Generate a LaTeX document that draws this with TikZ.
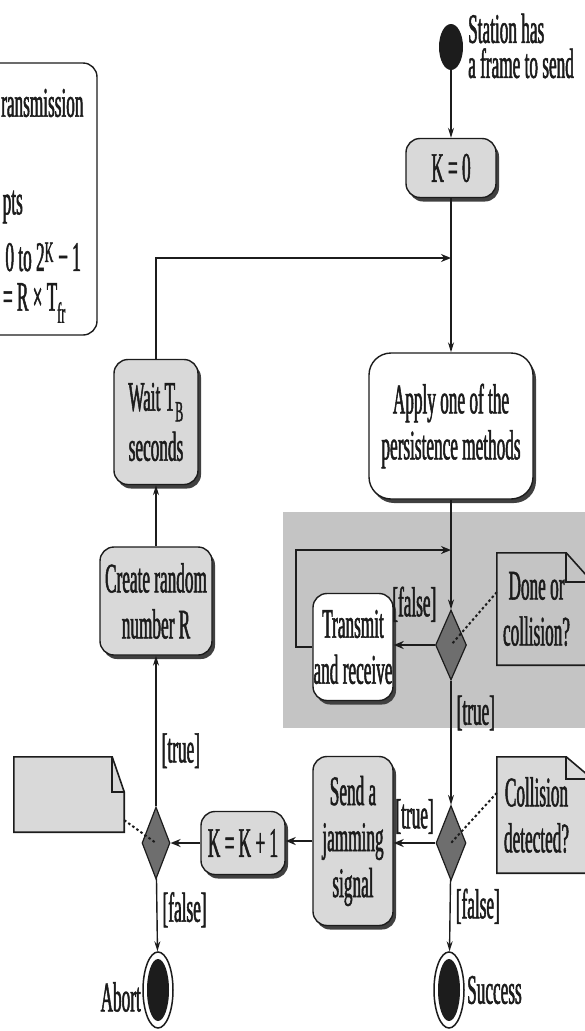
\documentclass[tikz,border=0pt]{standalone}
\usepackage{fontspec}
\setmainfont{Liberation Serif}[FakeStretch=0.41,FakeBold=1.2]
\usetikzlibrary{shapes.geometric,arrows.meta,shadows,calc,backgrounds}
\definecolor{boxgray}{HTML}{D9D9D9}
\definecolor{regiongray}{HTML}{C4C4C4}
\definecolor{diagray}{HTML}{6E6E6E}
\definecolor{ink}{HTML}{1C1C1C}
\begin{document}
\begin{tikzpicture}[x=1pt,y=-1pt,
  every node/.style={font=\fontsize{42}{46}\selectfont, inner sep=0pt, text=ink},
  act/.style={draw=ink, line width=1.4pt, rounded corners=14pt, fill=boxgray, align=center,
    drop shadow={shadow xshift=3pt, shadow yshift=-4pt, fill=black!75, opacity=1}},
  actw/.style={act, fill=white},
  dec/.style={diamond, draw=ink, line width=1.2pt, fill=diagray},
  flow/.style={draw=ink, line width=1.4pt, -{Stealth[length=10pt,width=6pt]}},
  flowt/.style={draw=ink, line width=2.2pt, -{Stealth[length=10pt,width=8pt]}},
  anno/.style={draw=ink, line width=2pt, dash pattern=on 2.5pt off 2.5pt},
  notetext/.style={align=center},
  notepath/.style={draw=ink, line width=1.6pt},
  finalstate/.style={ellipse, draw=ink, line width=1.5pt, fill=white, minimum width=30pt, minimum height=76pt,
    path picture={\fill[ink] (path picture bounding box.center) ellipse [x radius=11pt, y radius=31pt];}},
]
\useasboundingbox (0,0) rectangle (585,1031);
\clip (0,0) rectangle (585,1031);

% shaded region
\begin{scope}[on background layer]
  \fill[regiongray] (283,512) rectangle (600,728);
\end{scope}

% legend box (cut by the left edge)
\node[draw=ink, line width=1.4pt, rounded corners=14pt, fill=white, minimum width=160pt, minimum height=272pt] (legend) at (17,199) {};
\node[anchor=west] (lg1) at (1,103) {ransmission};
\node[anchor=east] (lg2) at (23,207) {pts};
\node[anchor=east] (lg3) at (81,257) {0 to 2\textsuperscript{K} − 1};
\node[anchor=east] (lg4) at (66,303) {= R × T\textsubscript{fr}};

% start
\node[ellipse, fill=ink, minimum width=24pt, minimum height=46pt] (start) at (451,47) {};
\node[anchor=west, align=left, font=\fontsize{42}{35}\selectfont] (stlab) at (468,46) {Station has\\a frame to send};

% actions
\node[act, minimum width=90pt, minimum height=59pt] (k0) at (451,168) {K = 0};
\node[actw, rounded corners=22pt, minimum width=164pt, minimum height=146pt] (apply) at (451,426) {Apply one of the\\persistence methods};
\node[act, minimum width=84pt, minimum height=125pt, font=\fontsize{42}{50}\selectfont] (wait) at (156,422) {Wait T\textsubscript{B}\\seconds};
\node[act, minimum width=112pt, minimum height=108pt] (create) at (156,601) {Create random\\number R};
\node[actw, minimum width=80pt, minimum height=107pt] (tx) at (353,647) {Transmit\\and receive};
\node[act, minimum width=80pt, minimum height=169pt] (send) at (353,841) {Send a\\jamming\\signal};
\node[act, minimum width=84pt, minimum height=63pt] (kk1) at (243,843) {K = K + 1};

% decisions
\node[dec, minimum width=28pt, minimum height=72pt] (dl) at (156,843) {};
\node[dec, minimum width=31pt, minimum height=70pt] (d1) at (451,645) {};
\node[dec, minimum width=30pt, minimum height=75pt] (d2) at (451,843) {};

% final states
\node[finalstate] (succ) at (449,990) {};
\node[anchor=west] (succlab) at (467,990) {Success};
\node[finalstate] (abort) at (158,990) {};
\node[anchor=east] (ablab) at (141,997) {Abort};

% notes
\node[notetext, minimum width=110pt, minimum height=75pt] (nl) at (69,794.5) {};
\node[notetext, minimum width=79pt, minimum height=112pt] (n1) at (536.5,609) {Done or\\collision?};
\node[notetext, minimum width=79pt, minimum height=116pt] (n2) at (536.5,815) {Collision\\detected?};
\begin{scope}[on background layer]
  \draw[notepath, fill=boxgray] (nl.north west) -- ([xshift=-12pt]nl.north east) -- ([yshift=-35pt]nl.north east) -- (nl.south east) -- (nl.south west) -- cycle;
  \draw[notepath] ([xshift=-12pt]nl.north east) -- ([xshift=-12pt,yshift=-35pt]nl.north east) -- ([yshift=-35pt]nl.north east);
  \draw[notepath, fill=regiongray] (n1.north west) -- ([xshift=-10pt]n1.north east) -- ([xshift=16pt,yshift=-29pt]n1.north east) -- ([xshift=16pt]n1.south east) -- (n1.south west) -- cycle;
  \draw[notepath] ([xshift=-10pt]n1.north east) -- ([xshift=-10pt,yshift=-29pt]n1.north east) -- ([xshift=16pt,yshift=-29pt]n1.north east);
  \draw[notepath, fill=boxgray] (n2.north west) -- ([xshift=-10pt]n2.north east) -- ([xshift=16pt,yshift=-22pt]n2.north east) -- ([xshift=16pt]n2.south east) -- (n2.south west) -- cycle;
  \draw[notepath] ([xshift=-10pt]n2.north east) -- ([xshift=-10pt,yshift=-22pt]n2.north east) -- ([xshift=16pt,yshift=-22pt]n2.north east);
\end{scope}

% flows
\coordinate (m1) at (451,258);
\coordinate (m2) at (451,550);
\draw[flow] (start) -- (k0);
\draw[flow] (k0) -- (apply);
\draw[flowt, line width=1.8pt] (wait.north) |- (m1);
\draw[flow] (apply) -- (d1);
\draw[flowt] (tx.west) -- ++(-16,0) |- (m2);
\draw[flowt] (d1.west) -- (d1.west -| tx.east) node[midway, above=22pt] {[false]};
\draw[flow] (d1) -- node[pos=0.26, anchor=west, xshift=5pt] {[true]} (d2);
\draw[flowt] (d2.west) -- (d2.west -| send.east) node[midway, above=8pt] {[true]};
\draw[flow] (d2) -- node[pos=0.37, anchor=west, xshift=5pt] {[false]} (succ);
\draw[flowt] (send.west) -- (send.west -| kk1.east);
\draw[flowt] (kk1.west) -- (kk1.west -| dl.east);
\draw[flow] (dl) -- node[pos=0.37, anchor=west, xshift=5pt] {[true]} (create);
\draw[flow] (dl) -- node[pos=0.43, anchor=west, xshift=5pt] {[false]} (abort);
\draw[flow] (create) -- (wait);

% annotations
\draw[anno] ($(n1.north west)!0.35!(n1.south west)$) -- (d1.center);
\draw[anno] ($(n2.north west)!0.31!(n2.south west)$) -- (d2.center);
\draw[anno] ($(nl.north east)!0.84!(nl.south east)$) -- (dl.center);
\end{tikzpicture}
\end{document}
